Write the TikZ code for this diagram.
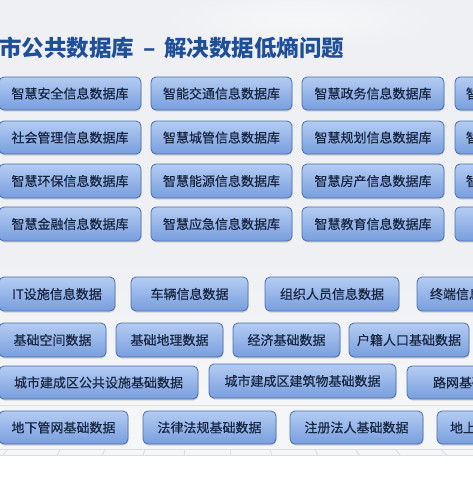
\documentclass[tikz,border=0pt]{standalone}
\usepackage{fontspec}
\newfontfamily\cjk{Noto Sans CJK SC}
\newfontfamily\cjkm[FakeBold=0.4]{Noto Sans CJK SC}
\definecolor{bgtop}{HTML}{EEF0F3}
\definecolor{bgmid}{HTML}{F4F6F8}
\definecolor{gridc}{HTML}{DCDDE0}
\definecolor{boxtop}{HTML}{B4CCF2}
\definecolor{boxbot}{HTML}{789EDE}
\definecolor{boxedge}{HTML}{4C6EAC}
\definecolor{boxtext}{HTML}{182642}
\definecolor{titlec}{HTML}{1E4F98}
\tikzset{
  dbbox/.style={rounded corners=5pt, draw=boxedge, line width=0.8pt,
    top color=boxtop, bottom color=boxbot, inner sep=0pt, outer sep=0pt,
    text=boxtext, font=\cjkm\fontsize{13}{13}\selectfont},
  shadowbox/.style={rounded corners=5pt, fill=black!18, draw=none},
  gridline/.style={draw=gridc, line width=0.8pt},
  titletext/.style={text=titlec, font=\cjk\bfseries\fontsize{22.5}{24}\selectfont, anchor=west, inner sep=0pt}
}
% \bx{name}{x1}{y1}{x2}{y2}{text}
\newcommand{\bx}[6]{%
  \fill[shadowbox] ({#2+0.5},{#3+1.5}) rectangle ({#4+0.5},{#5+1.5});
  \node[dbbox, minimum width={((#4)-(#2))*1pt}, minimum height={((#5)-(#3))*1pt}]
    (#1) at ({((#2)+(#4))/2},{((#3)+(#5))/2}) {#6};}
% partial box at right edge: text starts at given offset
\newcommand{\bxp}[7]{%
  \fill[shadowbox] ({#2+0.5},{#3+1.5}) rectangle ({#4+0.5},{#5+1.5});
  \node[dbbox, minimum width={((#4)-(#2))*1pt}, minimum height={((#5)-(#3))*1pt},
    text width={((#4)-(#2)-2*(#7))*1pt}, align=left]
    (#1) at ({((#2)+(#4))/2},{((#3)+(#5))/2}) {#6};}
\begin{document}
\begin{tikzpicture}[x=1pt,y=-1pt]
\useasboundingbox (0,0) rectangle (473,477);
\clip (0,0) rectangle (473,477);
% background
\fill[bgtop] (0,0) rectangle (473,260);
\shade[top color=bgtop, bottom color=bgmid] (0,255) rectangle (473,400);
\fill[bgmid] (0,400) rectangle (473,456);
\fill[white] (0,456) rectangle (473,477);
\shade[inner color=white, outer color=bgtop, opacity=0.5] (300,20) ellipse (140 and 30);
% faint floor grid
\draw[gridline] (0,405) -- (473,405);
\draw[gridline] (0,449) -- (473,449);
\draw[gridline] (0,455) -- (473,455);
\foreach \a/\b in {8/2,60/57,105/102,145/143,185/184,230/231,270/272,315/318,355/360,395/401,440/448}{
  \draw[gridline] (\a,449) -- (\b,456);
}
% title
\node[titletext] (title) at (-1,48) {市公共数据库 \,–\, 解决数据低熵问题};
% top section: smart information databases
\bx{a11}{-1}{77}{141}{110}{智慧安全信息数据库}
\bx{a12}{151}{77}{292}{110}{智能交通信息数据库}
\bx{a13}{302}{77}{444}{110}{智慧政务信息数据库}
\bxp{a14}{455}{77}{597}{110}{智}{11}
\bx{a21}{-1}{121}{141}{154}{社会管理信息数据库}
\bx{a22}{151}{121}{292}{154}{智慧城管信息数据库}
\bx{a23}{302}{121}{444}{154}{智慧规划信息数据库}
\bxp{a24}{455}{121}{597}{154}{智}{11}
\bx{a31}{-1}{164}{141}{198}{智慧环保信息数据库}
\bx{a32}{151}{164}{292}{198}{智慧能源信息数据库}
\bx{a33}{302}{164}{444}{198}{智慧房产信息数据库}
\bxp{a34}{455}{164}{597}{198}{智}{11}
\bx{a41}{-1}{207}{141}{241}{智慧金融信息数据库}
\bx{a42}{151}{207}{292}{241}{智慧应急信息数据库}
\bx{a43}{302}{207}{444}{241}{智慧教育信息数据库}
\bxp{a44}{455}{207}{597}{241}{}{12}
% lower section: basic data
\bx{b11}{-1}{277}{115}{311}{IT设施信息数据}
\bx{b12}{131}{277}{248}{311}{车辆信息数据}
\bx{b13}{265}{277}{399}{311}{组织人员信息数据}
\bxp{b14}{417}{277}{560}{311}{终端信息}{13}
\bx{b21}{-1}{323}{106}{357}{基础空间数据}
\bx{b22}{116}{323}{223}{357}{基础地理数据}
\bx{b23}{233}{323}{340}{357}{经济基础数据}
\bx{b24}{349}{323}{469}{357}{户籍人口基础数据}
\bx{b31}{-1}{366}{198}{399}{城市建成区公共设施基础数据}
\bx{b32}{209}{364}{396}{398}{城市建成区建筑物基础数据}
\bxp{b33}{407}{366}{560}{399}{路网基础}{26}
\bx{b41}{-1}{411}{128}{444}{地下管网基础数据}
\bx{b42}{143}{411}{276}{444}{法律法规基础数据}
\bx{b43}{290}{411}{423}{444}{注册法人基础数据}
\bxp{b44}{437}{411}{570}{444}{地上}{13}
\end{tikzpicture}
\end{document}
